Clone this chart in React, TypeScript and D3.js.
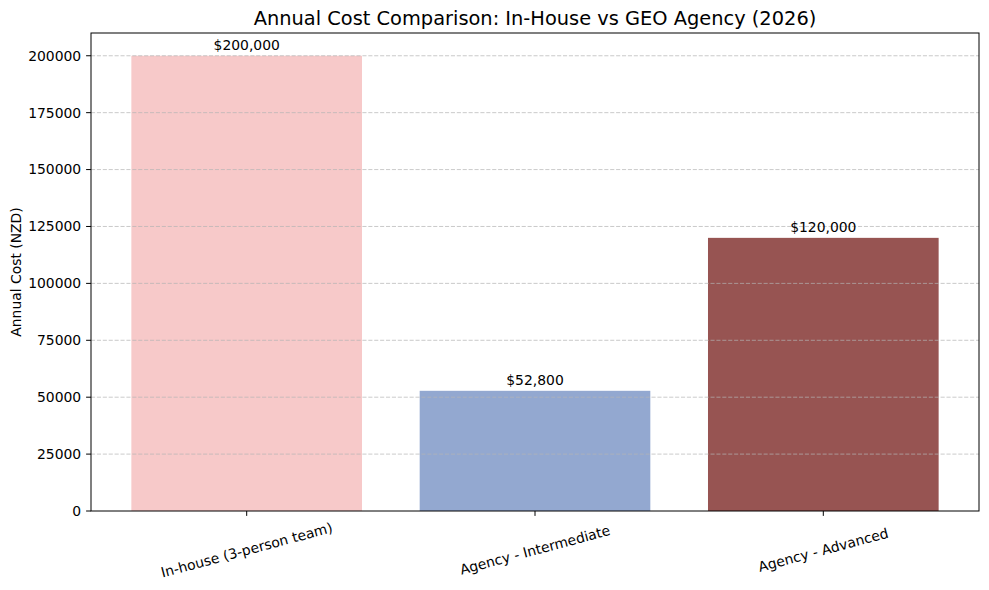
import React from "react";
import * as d3 from "d3";

const categories = ["In-house (3-person team)", "Agency - Intermediate", "Agency - Advanced"];
const costs = [200000, 52800, 120000];
const barColors = ["#f7c9c9", "#93a8d0", "#975452"];
const yTicks = [0, 25000, 50000, 75000, 100000, 125000, 150000, 175000, 200000];

const W = 989, H = 590;
const M = { left: 91, right: 979, top: 33, bottom: 511 };
const FONT = "DejaVu Sans, sans-serif";

export default function App() {
  const x = d3.scaleLinear().domain([-0.54, 2.54]).range([M.left, M.right]);
  const y = d3.scaleLinear().domain([0, 210000]).range([M.bottom, M.top]);
  const bw = x(0.4) - x(-0.4);
  const fmt = d3.format(",");
  return (
    <svg width={W} height={H} style={{ position: "absolute", left: 0, top: 0, background: "#fff" }} fontFamily={FONT}>
      <rect x={0} y={0} width={W} height={H} fill="#fff" />
      <text x={(M.left + M.right) / 2} y={25} textAnchor="middle" fontSize={19.4} fill="#000">
        Annual Cost Comparison: In-House vs GEO Agency (2026)
      </text>
      {costs.map((v, i) => (
        <rect key={i} x={x(i) - bw / 2} y={y(v)} width={bw} height={y(0) - y(v)} fill={barColors[i]} />
      ))}
      {yTicks.filter((t) => t > 0).map((t) => (
        <line key={t} x1={M.left} x2={M.right} y1={y(t)} y2={y(t)} stroke="#b3b3b3" strokeOpacity={0.7} strokeWidth={1} strokeDasharray="4.1,1.8" />
      ))}
      {costs.map((v, i) => (
        <text key={i} x={x(i)} y={y(v) - 6} textAnchor="middle" fontSize={13.9} fill="#000">
          ${fmt(v)}
        </text>
      ))}
      <rect x={M.left} y={M.top} width={M.right - M.left} height={M.bottom - M.top} fill="none" stroke="#000" strokeWidth={1} />
      {yTicks.map((t) => (
        <g key={t}>
          <line x1={M.left - 4.9} x2={M.left} y1={y(t)} y2={y(t)} stroke="#000" strokeWidth={1} />
          <text x={M.left - 9.8} y={y(t)} dy="0.35em" textAnchor="end" fontSize={13.9} fill="#000">
            {t}
          </text>
        </g>
      ))}
      {categories.map((c, i) => (
        <g key={c}>
          <line x1={x(i)} x2={x(i)} y1={M.bottom} y2={M.bottom + 4.9} stroke="#000" strokeWidth={1} />
          <text transform={`translate(${x(i)},${550}) rotate(-15)`} textAnchor="middle" dy="0.35em" fontSize={13.9} fill="#000">
            {c}
          </text>
        </g>
      ))}
      <text transform={`translate(21,${(M.top + M.bottom) / 2}) rotate(-90)`} textAnchor="middle" fontSize={13.9} fill="#000">
        Annual Cost (NZD)
      </text>
    </svg>
  );
}
